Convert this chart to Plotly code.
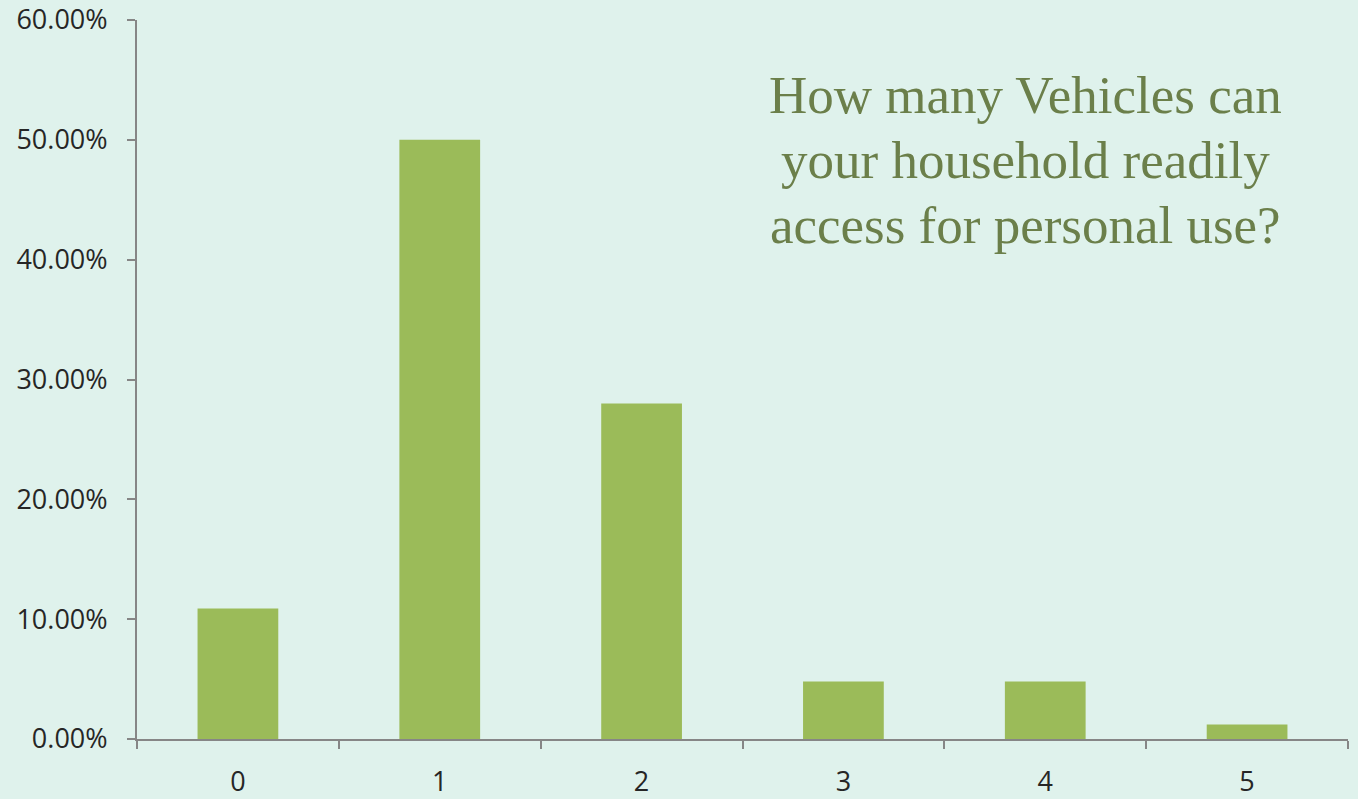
import plotly.graph_objects as go

categories = ["0", "1", "2", "3", "4", "5"]
shares = [0.109, 0.500, 0.280, 0.048, 0.048, 0.012]
y_ticks = [0, 0.1, 0.2, 0.3, 0.4, 0.5, 0.6]
title_lines = ["How many Vehicles can", "your household readily", "access for personal use?"]
title_y = [0.8957, 0.8053, 0.7149]

bg = "#dff2ec"
fig = go.Figure(go.Bar(x=categories, y=shares, marker=dict(color="#9bbb59", line=dict(width=0)),
                       hoverinfo="skip"))

fig.update_layout(
    width=1358, height=799,
    paper_bgcolor=bg, plot_bgcolor=bg,
    margin=dict(l=137, r=10, t=20, b=60),
    bargap=0.6,
    showlegend=False,
    font=dict(family="Open Sans, Liberation Sans, sans-serif", size=27, color="#262626"),
)
fig.update_xaxes(
    type="category", showline=True, linecolor="#868686", linewidth=2,
    ticks="outside", ticklen=8, tickcolor="#868686", tickwidth=2,
    tickson="boundaries", showgrid=False, zeroline=False, automargin=False,
    tickfont=dict(size=27, color="#262626"), ticklabelstandoff=18,
)
fig.update_yaxes(
    range=[0, 0.6], tickvals=y_ticks, tickformat=".2%",
    showline=True, linecolor="#868686", linewidth=2,
    ticks="outside", ticklen=8, tickcolor="#868686", tickwidth=2,
    showgrid=False, zeroline=False, automargin=False,
    tickfont=dict(size=27, color="#262626"), ticklabelstandoff=14,
)
for line, yy in zip(title_lines, title_y):
    fig.add_annotation(
        text=line, xref="paper", yref="paper",
        x=0.7333, y=yy, xanchor="center", yanchor="middle", showarrow=False,
        font=dict(family="Liberation Serif, DejaVu Serif, serif", size=53, color="#6b7f4a"),
    )
fig.write_html(
    "out.html",
    config={"displayModeBar": False},
    post_script="document.body.style.margin='0';document.body.style.background='" + bg + "';",
)
